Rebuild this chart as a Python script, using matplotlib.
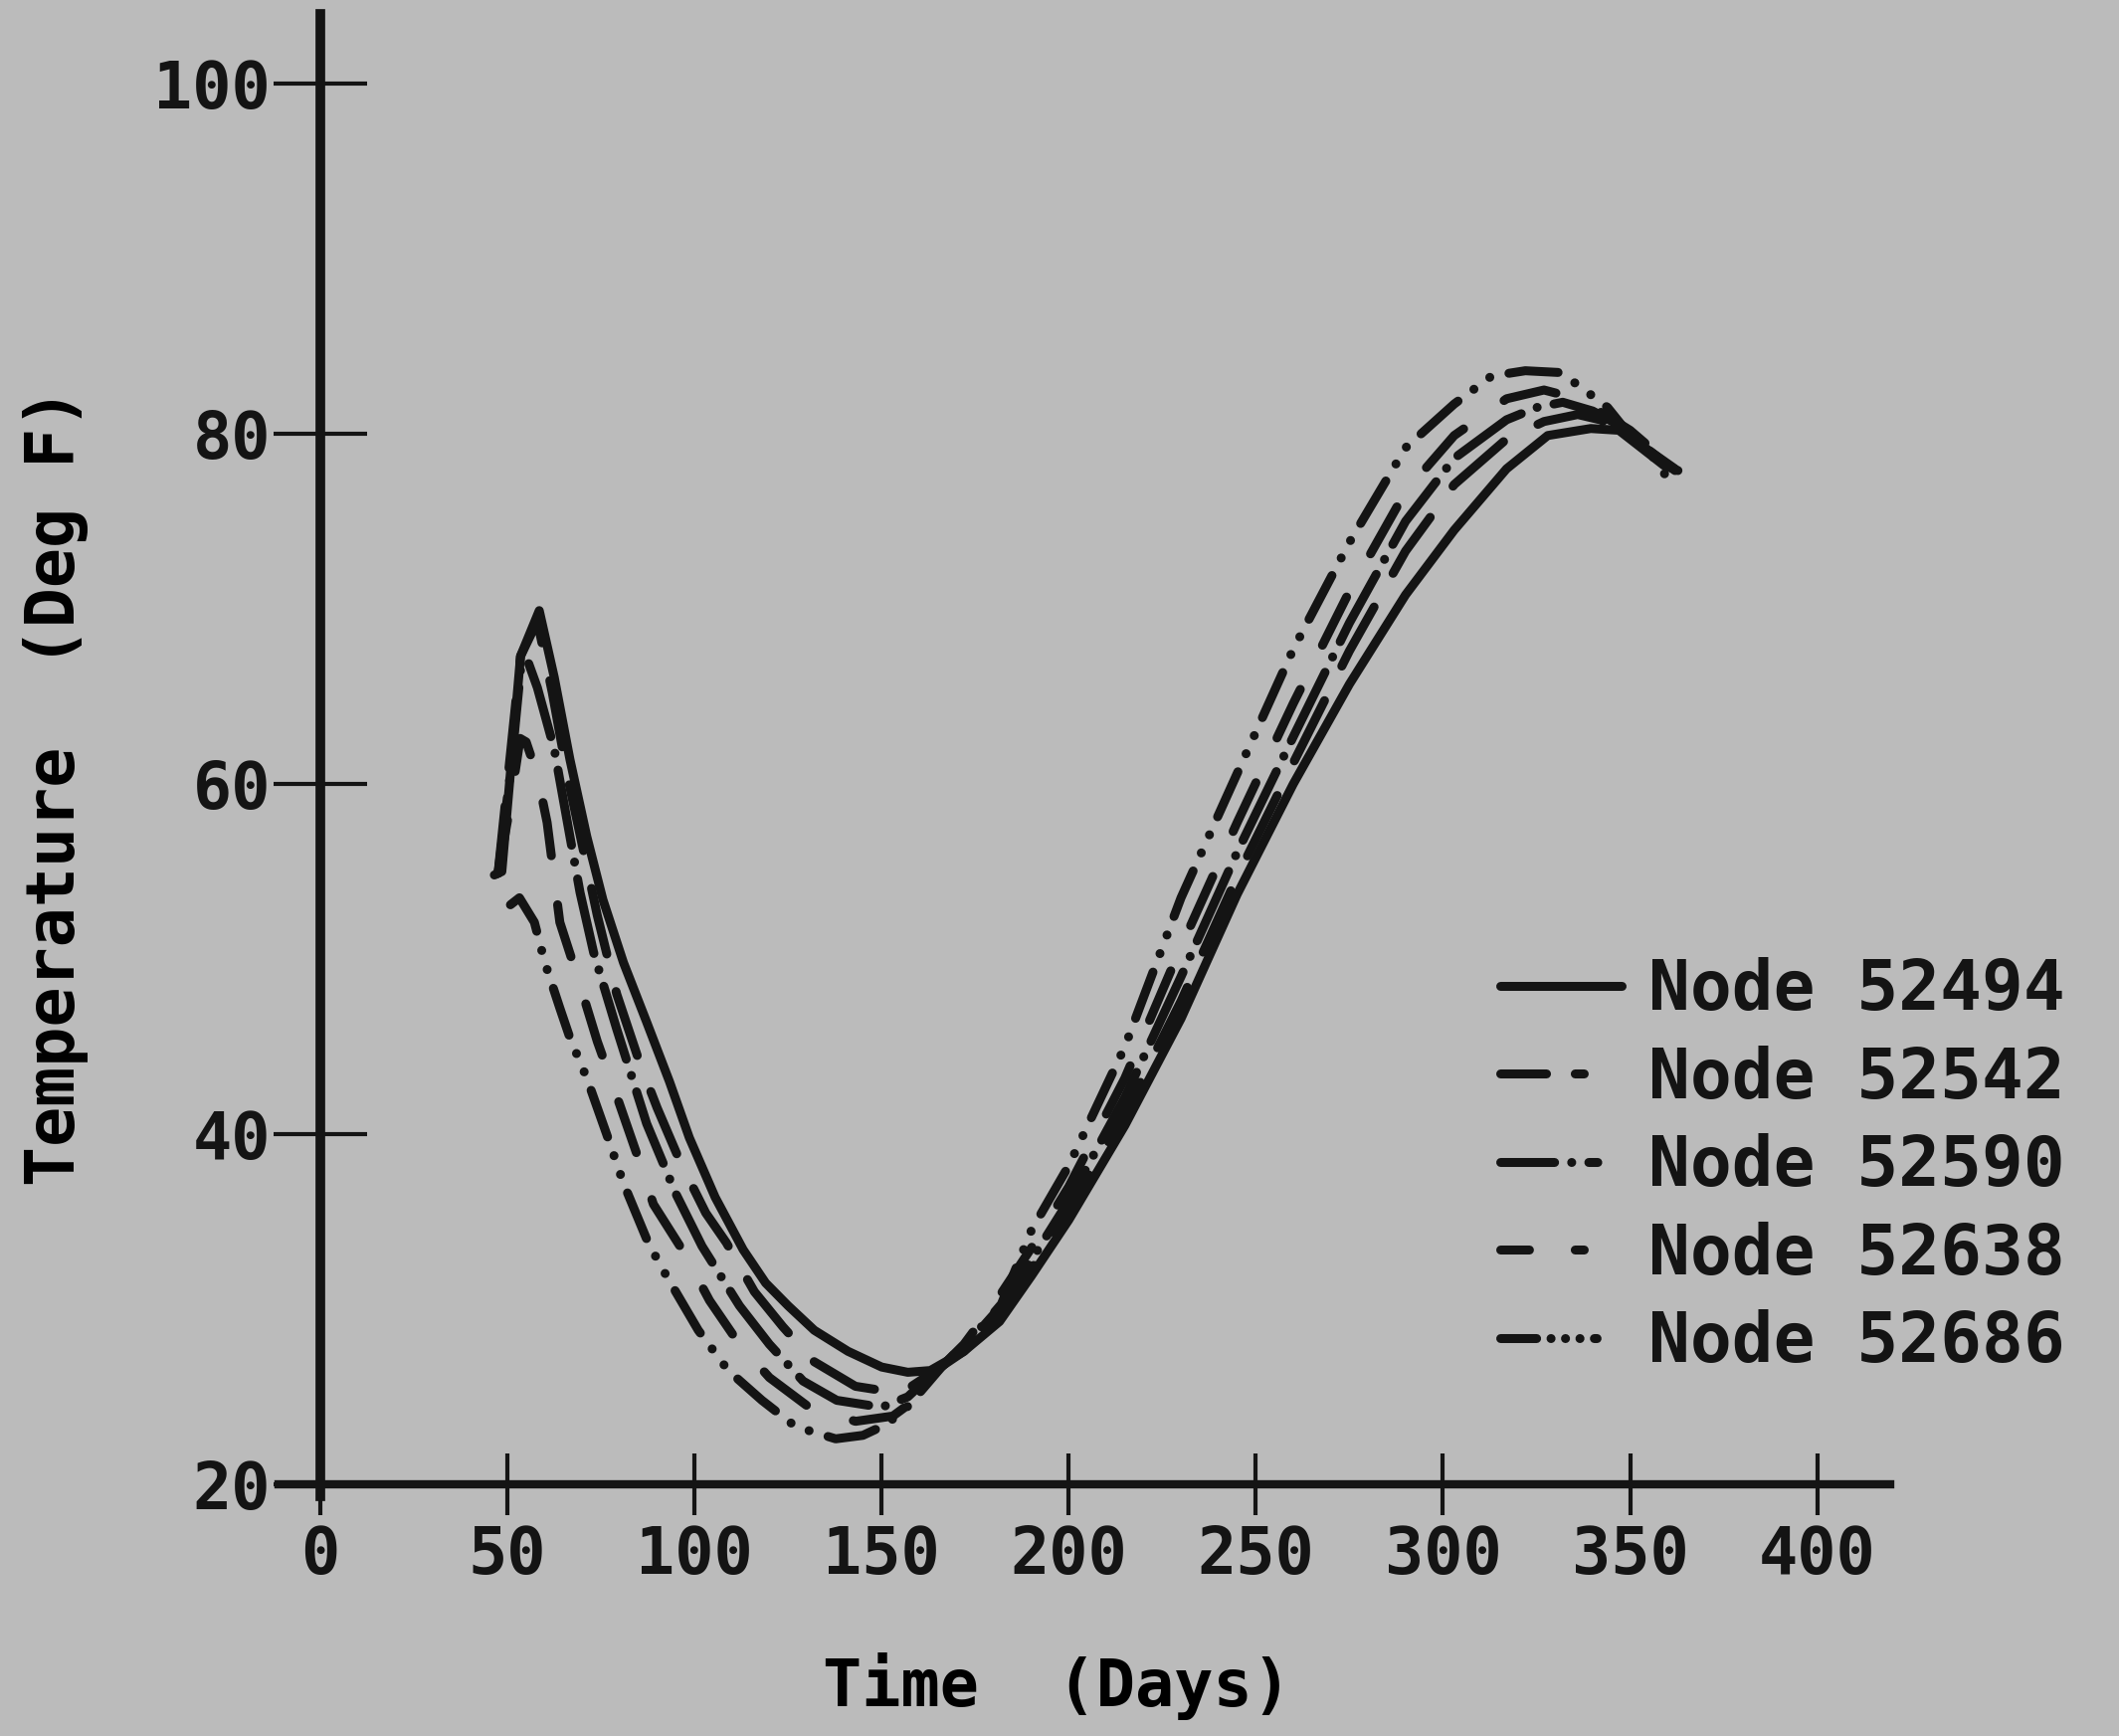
import matplotlib
matplotlib.use('Agg')
import matplotlib.pyplot as plt
from matplotlib.lines import Line2D

# values (day, deg F)
days_52494 = [46.5, 48.5, 53.5, 58.5, 62.5, 66.7, 71.2, 75.5, 81, 87.2, 93.3, 98.6, 105.5, 113, 119, 125, 132, 141, 150,
              157, 163, 172, 181.5, 190, 200, 215, 230, 245, 260, 275, 290, 303, 317, 328, 339.5, 347, 353, 359, 362.8]
temp_52494 = [54.8, 55.0, 67.3, 69.9, 66.1, 61.4, 57.0, 53.4, 49.8, 46.4, 43.0, 39.8, 36.4, 33.4, 31.5, 30.2, 28.8, 27.6, 26.7,
              26.4, 26.5, 27.6, 29.3, 31.9, 35.1, 40.5, 46.6, 53.7, 60.0, 65.7, 70.8, 74.5, 78.0, 79.9, 80.3, 80.2, 79.2, 78.2, 77.9]

days_52542 = [47.5, 53.5, 58, 62, 66, 70, 74, 79.2, 85.3, 90, 96, 103, 108.5, 116, 123.6, 132, 143, 152,
              158, 163, 172, 182, 190, 200, 215, 230, 245, 260, 275, 290, 303, 317, 327, 336, 342, 348, 354, 362]
temp_52542 = [54.9, 67.3, 69.3, 65.2, 60.5, 56.5, 52.5, 48.0, 44.1, 41.5, 38.5, 35.5, 33.8, 31.0, 29.0, 27.0, 25.6, 25.3,
              25.6, 26.3, 27.6, 29.8, 32.3, 35.6, 41.2, 47.6, 54.7, 61.2, 67.6, 73.3, 77.1, 79.7, 80.7, 81.1, 80.8, 80.2, 79.2, 78.0]

days_52590 = [47.5, 51, 53.5, 55.3, 58, 62.5, 66.7, 69.4, 73, 79.2, 87.2, 95, 102, 112, 120, 129, 138, 150,
              157, 163, 172, 182, 190, 200, 215, 230, 245, 260, 275, 290, 303, 317, 325, 332, 340, 347, 353, 362]
temp_52590 = [54.9, 61.0, 66.5, 67.1, 65.5, 62.0, 57.0, 53.8, 50.4, 46.0, 40.6, 36.6, 33.6, 30.2, 28.0, 25.9, 24.8, 24.4,
              25.0, 26.2, 27.8, 30.2, 32.8, 36.2, 42.1, 49.0, 56.1, 62.7, 69.2, 75.0, 78.6, 80.8, 81.5, 81.8, 81.3, 80.5, 79.4, 77.9]

days_52638 = [47.5, 50.5, 53.4, 55, 58, 60.6, 64, 69, 74, 79, 85, 89, 97, 104, 112, 120, 130, 143, 153,
              160, 164, 172, 181, 190, 200, 215, 230, 245, 260, 275, 290, 303, 317, 327, 336, 344, 350, 356, 362]
temp_52638 = [54.9, 58.5, 62.6, 62.4, 60.5, 57.8, 52.1, 48.8, 45.3, 42.3, 38.6, 36.0, 33.3, 30.5, 28.0, 26.1, 24.5, 23.6, 23.9,
              25.0, 26.3, 28.0, 30.6, 33.5, 37.0, 43.2, 50.7, 57.8, 64.6, 71.0, 76.7, 79.9, 82.0, 82.5, 82.0, 81.0, 80.2, 79.1, 77.8]

days_52686 = [50.8, 53.2, 57.2, 60, 64, 66.7, 71.2, 76.5, 81, 87.7, 92.5, 101, 109, 118, 127, 137.7, 145, 150, 155.5,
              160, 166, 172, 177.6, 182, 190, 200, 215, 230, 245, 260, 275, 290, 303, 313, 322, 331, 336, 344, 348.5, 356.5, 362]
temp_52686 = [53.1, 53.5, 52.1, 49.8, 47.2, 45.5, 43.2, 40.0, 37.2, 33.75, 31.9, 28.8, 26.5, 24.8, 23.3, 22.6, 22.8, 23.3, 24.1,
              25.2, 26.7, 28.0, 29.2, 30.3, 34.5, 38.2, 45.0, 53.5, 60.6, 67.7, 73.8, 79.2, 81.7, 83.3, 83.6, 83.5, 82.8, 81.5, 80.3, 78.6, 76.8]

labels = ['Node 52494', 'Node 52542', 'Node 52590', 'Node 52638', 'Node 52686']
x_ticks = [0, 50, 100, 150, 200, 250, 300, 350, 400]
y_ticks = [20, 40, 60, 80, 100]

ink = '#141414'
paper = '#bbbbbb'

plt.rcParams['font.family'] = 'DejaVu Sans Mono'
plt.rcParams['font.weight'] = 'bold'
plt.rcParams['text.color'] = ink

fig = plt.figure(figsize=(21.3, 17.45), dpi=100, facecolor=paper)
ax = fig.add_axes([0.1314, 0.1379, 0.7606, 0.8543])
ax.set_facecolor(paper)

series = [(days_52494, temp_52494), (days_52542, temp_52542), (days_52590, temp_52590),
          (days_52638, temp_52638), (days_52686, temp_52686)]
# dash patterns along the curves (units of line width, round caps)
plot_dashes = [None,
               (7.5, 4.3),
               (8.5, 1.9, 0.01, 1.9),
               (6.0, 5.5),
               (5.5, 2.2, 0.01, 2.2, 0.01, 2.2)]
# the legend samples are drawn a little differently
leg_dashes = [None,
              (5.1, 3.2, 1.0, 20),
              (6.0, 1.9, 0.01, 1.9, 1.0, 20),
              (3.2, 5.1, 1.0, 20),
              (4.0, 1.6, 0.01, 1.6, 0.01, 1.6, 0.01, 1.6, 0.3, 20)]

lw = 6.5
for (d, t), dsh in zip(series, plot_dashes):
    ln, = ax.plot(d, t, color=ink, lw=lw, solid_capstyle='round', dash_capstyle='round',
                  solid_joinstyle='round', dash_joinstyle='round')
    if dsh is not None:
        ln.set_dashes(dsh)

handles = []
for dsh in leg_dashes:
    h = Line2D([], [], color=ink, lw=lw, solid_capstyle='round', dash_capstyle='round')
    if dsh is not None:
        h.set_dashes(dsh)
    handles.append(h)

ax.set_xlim(-11.2, 419.5)
ax.set_ylim(19.3, 104)
ax.spines['top'].set_visible(False)
ax.spines['right'].set_visible(False)
ax.spines['left'].set_position(('data', 0))
ax.spines['bottom'].set_position(('data', 20))
ax.spines['left'].set_linewidth(7)
ax.spines['bottom'].set_linewidth(6)
ax.spines['left'].set_color(ink)
ax.spines['bottom'].set_color(ink)

ax.set_xticks(x_ticks)
ax.set_yticks(y_ticks)
ax.tick_params(axis='y', direction='inout', length=68, width=3, colors=ink, labelsize=47, pad=2)
ax.tick_params(axis='x', direction='inout', length=45, width=3, colors=ink, labelsize=47, pad=6)

ax.set_xlabel('Time  (Days)', fontsize=47, fontweight='bold')
ax.set_ylabel('Temperature  (Deg F)', fontsize=48, fontweight='bold', va='center')
ax.xaxis.set_label_coords(0.483, -0.105)
ax.yaxis.set_label_coords(-0.138, 0.479)

leg = ax.legend(handles, labels, loc='upper left', bbox_to_anchor=(1508 / 2130, 0.4487),
                bbox_transform=fig.transFigure, frameon=False, fontsize=50,
                handlelength=1.75, handletextpad=0.4, labelspacing=0.31,
                borderpad=0, borderaxespad=0)
for txt in leg.get_texts():
    txt.set_color(ink)

fig.savefig('out.png', dpi=100, facecolor=paper)
